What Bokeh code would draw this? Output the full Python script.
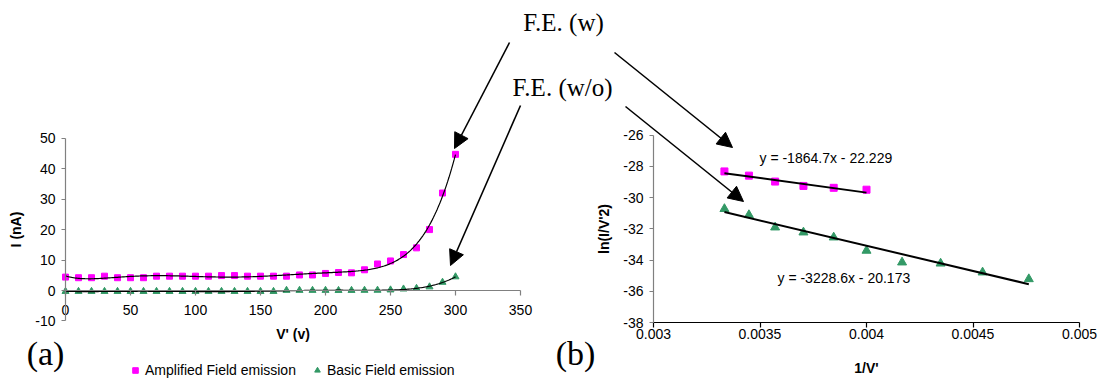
import numpy as np
from bokeh.plotting import figure
from bokeh.models import (Range1d, LinearAxis, FixedTicker, CustomJSTickFormatter,
                          Arrow, NormalHead, Legend, LegendItem)
from bokeh.core.properties import value
from bokeh.embed import file_html
from bokeh.resources import INLINE

# ---- (a) emission current against applied voltage ----
voltage = [0, 10, 20, 30, 40, 50, 60, 70, 80, 90, 100, 110, 120, 130, 140, 150,
           160, 170, 180, 190, 200, 210, 220, 230, 240, 250, 260, 270, 280, 290, 300]
amplified_na = [4.4, 4.2, 4.2, 4.7, 4.2, 4.2, 4.2, 4.7, 4.7, 4.7, 4.7, 4.7, 4.9, 4.9,
                4.7, 4.7, 4.7, 4.7, 5.1, 5.1, 5.6, 5.9, 5.8, 6.8, 8.7, 9.7, 11.8,
                14.0, 20.0, 32.0, 44.7]
basic_na = [-0.3, -0.3, -0.3, -0.3, -0.3, -0.3, -0.3, -0.3, -0.3, -0.3, -0.3, -0.3,
            -0.3, -0.3, -0.3, -0.3, -0.3, 0.05, 0.05, 0.05, 0.05, 0.02, 0.04, 0.07,
            0.09, 0.2, 0.5, 0.7, 1.2, 2.7, 4.5]

# ---- (b) Fowler-Nordheim coordinates ----
inv_v_amplified = [0.003333, 0.003448, 0.003571, 0.003704, 0.003846, 0.004000]
ln_amplified = [-28.33, -28.60, -28.98, -29.26, -29.38, -29.50]
inv_v_basic = [0.003333, 0.003448, 0.003571, 0.003704, 0.003846, 0.004000,
               0.004167, 0.004348, 0.004545, 0.004762]
ln_basic = [-30.73, -31.12, -31.91, -32.23, -32.55, -33.40, -34.15, -34.22,
            -34.79, -35.22]

# linear fits (slope, intercept)
fit_amplified = (-1864.7, -22.229)
fit_basic = (-3228.6, -20.173)

left_x_ticks = [0, 50, 100, 150, 200, 250, 300, 350]
left_y_ticks = [-10, 0, 10, 20, 30, 40, 50]
right_x_ticks = [0.003, 0.0035, 0.004, 0.0045, 0.005]
right_y_ticks = [-38, -36, -34, -32, -30, -28, -26]

legend_labels = ["Amplified Field emission", "Basic Field emission"]

W, H = 1102, 384
PINK = "#FF00FF"
GREEN = "#339966"
GRAY = "#808080"
SANS = "Liberation Sans"
SERIF = "Liberation Serif"


def pixel_range(v0, p0, v1, p1, near, far):
    """Range whose values v0, v1 fall on canvas pixels p0, p1."""
    k = (v1 - v0) / (p1 - p0)
    return Range1d(start=v0 + (near - p0) * k, end=v0 + (far - p0) * k)


p = figure(width=W, height=H, output_backend="svg", toolbar_location=None,
           x_axis_type=None, y_axis_type=None, min_border=0,
           x_range=pixel_range(0, 65, 350, 520, 0, W),
           y_range=pixel_range(0, 290, 50, 137.7, H, 0))
p.outline_line_color = None
p.background_fill_color = "white"
p.border_fill_color = "white"
p.extra_x_ranges = {"rx": pixel_range(0.003, 653, 0.005, 1079, 0, W),
                    "px": Range1d(0, W)}
p.extra_y_ranges = {"ry": pixel_range(-38, 322, -26, 134.5, H, 0),
                    "py": Range1d(H, 0)}

fmt_code = "return String(Number(tick.toPrecision(6)))"


def make_axis(ticks, color, **kw):
    return LinearAxis(ticker=FixedTicker(ticks=ticks),
                      formatter=CustomJSTickFormatter(code=fmt_code),
                      axis_line_color=color, axis_line_width=1.2,
                      major_tick_line_color=color, major_tick_line_width=1.2,
                      minor_tick_line_color=None, major_tick_in=0,
                      major_label_text_font=SANS, major_label_text_font_size="14px",
                      major_label_text_color="black",
                      axis_label_text_font=SANS, axis_label_text_font_size="14px",
                      axis_label_text_font_style="bold", axis_label_text_color="black",
                      **kw)


# axes of panel (a): crossing at V = 0 and I = 0
p.add_layout(make_axis(left_y_ticks, GRAY, fixed_location=0, bounds=(-10, 50),
                       axis_label="I (nA)", major_tick_out=4,
                       major_label_standoff=6, axis_label_standoff=8), "left")
p.add_layout(make_axis(left_x_ticks, GRAY, fixed_location=0, bounds=(0, 350),
                       axis_label="V' (v)", major_tick_out=5,
                       major_label_standoff=9, axis_label_standoff=8), "below")

# axes of panel (b)
p.add_layout(make_axis(right_y_ticks, GRAY, x_range_name="rx", y_range_name="ry",
                       fixed_location=0.003, bounds=(-38, -26),
                       axis_label="ln(I/V'2)", major_tick_out=4,
                       major_label_standoff=6, axis_label_standoff=8), "left")
p.add_layout(make_axis(right_x_ticks, "black", x_range_name="rx", y_range_name="ry",
                       fixed_location=-38, bounds=(0.003, 0.005),
                       axis_label="1/V'", major_tick_out=5,
                       major_label_standoff=1, axis_label_standoff=18), "below")

# panel (a): measured points and polynomial trend lines
amp_r = p.scatter(voltage, amplified_na, marker="square", size=6, color=PINK)
bas_r = p.scatter(voltage, basic_na, marker="triangle", size=7, color=GREEN)
v_grid = np.linspace(min(voltage), max(voltage), 301)
for series in (amplified_na, basic_na):
    trend = np.polynomial.Polynomial.fit(voltage, series, 6)
    p.line(v_grid, trend(v_grid), line_color="black", line_width=1.2)

# panel (b): transformed points and straight-line fits
p.scatter(inv_v_amplified, ln_amplified, marker="square", size=7, color=PINK,
          x_range_name="rx", y_range_name="ry")
p.scatter(inv_v_basic, ln_basic, marker="triangle", size=9, color=GREEN,
          x_range_name="rx", y_range_name="ry")
eq_text = []
for xs, (slope, icpt) in ((inv_v_amplified, fit_amplified), (inv_v_basic, fit_basic)):
    ends = np.array([min(xs), max(xs)])
    p.line(ends, slope * ends + icpt, line_color="black", line_width=2,
           x_range_name="rx", y_range_name="ry")
    eq_text.append(f"y = {slope:g}x - {-icpt:g}")

# fit equations
p.text(x=[759, 777], y=[157, 277], text=eq_text, x_range_name="px", y_range_name="py",
       text_font=value(SANS), text_font_size=value("14px"), text_color="black",
       text_align="left", text_baseline="middle")

# panel letters and callouts
p.text(x=[45, 575], y=[353, 353], text=["(a)", "(b)"], x_range_name="px",
       y_range_name="py", text_font=value(SERIF), text_font_size=value("34px"),
       text_color="black", text_align="center", text_baseline="middle")
p.text(x=[563, 562], y=[22, 87], text=["F.E. (w)", "F.E. (w/o)"], x_range_name="px",
       y_range_name="py", text_font=value(SERIF), text_font_size=value("25px"),
       text_color="black", text_align="center", text_baseline="middle")

arrows = [(509, 42, 454, 148), (614, 52, 732, 147),
          (520, 105, 450, 265), (625, 106, 743, 201)]
for x0, y0, x1, y1 in arrows:
    p.add_layout(Arrow(end=NormalHead(size=15, fill_color="black", line_color="black",
                                      line_width=1),
                       x_start=x0, y_start=y0, x_end=x1, y_end=y1,
                       line_color="black", line_width=1.6,
                       x_range_name="px", y_range_name="py"))

legend = Legend(items=[LegendItem(label=legend_labels[0], renderers=[amp_r]),
                       LegendItem(label=legend_labels[1], renderers=[bas_r])],
                orientation="horizontal", location=(128, 6),
                glyph_width=14, glyph_height=14, label_height=14, label_standoff=3,
                spacing=14, padding=0, margin=0, border_line_color=None,
                background_fill_alpha=0, label_text_font=SANS,
                label_text_font_size="14px", label_text_color="black")
p.add_layout(legend)

open("out.html", "w").write(file_html(p, INLINE))
